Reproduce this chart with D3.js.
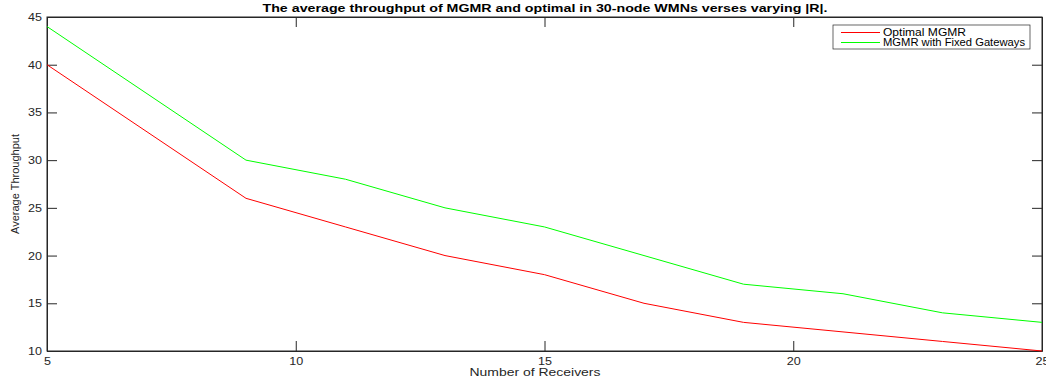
<html>
<head>
<script src="https://cdn.jsdelivr.net/npm/d3@7"></script>
<style>
body { margin: 0; background: #fff; }
text { font-family: "Liberation Sans", Arial, sans-serif; }
</style>
</head>
<body>
<div id="chart"></div>
<script>
var receivers = [5, 9, 11, 13, 15, 17, 19, 21, 23, 25];
var optimal = [40, 26, 23, 20, 18, 15, 13, 12, 11, 10];
var fixedGw = [44, 30, 28, 25, 23, 20, 17, 16, 14, 13];
var xTicks = [5, 10, 15, 20, 25];
var yTicks = [10, 15, 20, 25, 30, 35, 40, 45];
var seriesNames = ["Optimal MGMR", "MGMR with Fixed Gateways"];
var seriesColors = ["#ff0000", "#00ff00"];

var W = 1046, H = 382;
var m = {left: 47, right: 4, top: 17, bottom: 31};

var svg = d3.select("#chart").append("svg")
    .attr("width", W).attr("height", H);

var x = d3.scaleLinear().domain([5, 25]).range([m.left, W - m.right]);
var y = d3.scaleLinear().domain([10, 45]).range([H - m.bottom, m.top]);

// box
svg.append("rect")
   .attr("x", m.left).attr("y", m.top)
   .attr("width", W - m.right - m.left).attr("height", H - m.bottom - m.top)
   .attr("fill", "none").attr("stroke", "#262626").attr("stroke-width", 1);

var tl = 10;
var xa = svg.append("g").attr("transform", "translate(0," + (H - m.bottom) + ")")
    .call(d3.axisBottom(x).tickValues(xTicks).tickSizeInner(-tl).tickSizeOuter(0).tickPadding(5));
var xt = svg.append("g").attr("transform", "translate(0," + m.top + ")")
    .call(d3.axisTop(x).tickValues(xTicks).tickSizeInner(-tl).tickSizeOuter(0).tickFormat(""));
var ya = svg.append("g").attr("transform", "translate(" + m.left + ",0)")
    .call(d3.axisLeft(y).tickValues(yTicks).tickSizeInner(-tl).tickSizeOuter(0).tickPadding(5));
var yr = svg.append("g").attr("transform", "translate(" + (W - m.right) + ",0)")
    .call(d3.axisRight(y).tickValues(yTicks).tickSizeInner(-tl).tickSizeOuter(0).tickFormat(""));

[xa, xt, ya, yr].forEach(function(g) {
  g.select(".domain").attr("stroke", "#262626");
  g.selectAll(".tick line").attr("stroke", "#262626");
  g.selectAll(".tick text").attr("fill", "#262626").style("font-size", "11px")
   .style("font-family", "'Liberation Sans', Arial, sans-serif")
   .attr("lengthAdjust", "spacingAndGlyphs")
   .attr("textLength", function(d) { return String(d).length * 7; });
});
xa.selectAll(".tick text").attr("dy", "0.8em");

var line = d3.line().x(function(d, i) { return x(receivers[i]); }).y(function(d) { return y(d); });
[optimal, fixedGw].forEach(function(s, k) {
  svg.append("path").datum(s)
     .attr("d", line)
     .attr("fill", "none")
     .attr("stroke", seriesColors[k])
     .attr("stroke-width", 1);
});

// title and labels
svg.append("text").attr("x", 545).attr("y", 12)
   .attr("text-anchor", "middle").style("font-size", "11px").style("font-weight", "bold")
   .attr("fill", "#000")
   .attr("textLength", 565).attr("lengthAdjust", "spacingAndGlyphs")
   .text("The average throughput of MGMR and optimal in 30-node WMNs verses varying |R|.");
svg.append("text").attr("x", 535).attr("y", 376)
   .attr("text-anchor", "middle").style("font-size", "11px").attr("fill", "#262626")
   .attr("textLength", 131).attr("lengthAdjust", "spacingAndGlyphs")
   .text("Number of Receivers");
svg.append("text").attr("transform", "translate(19," + ((m.top + H - m.bottom) / 2) + ") rotate(-90)")
   .attr("text-anchor", "middle").style("font-size", "11px").attr("fill", "#262626")
   .text("Average Throughput");

// legend
var lg = svg.append("g").attr("transform", "translate(833,25)");
lg.append("rect").attr("width", 197).attr("height", 24)
  .attr("fill", "#fff").attr("stroke", "#262626").attr("stroke-width", 0.7);
var legendLen = [83, 142];
seriesNames.forEach(function(n, k) {
  var yy = 7.5 + k * 10;
  lg.append("line").attr("x1", 8).attr("x2", 47).attr("y1", yy).attr("y2", yy)
    .attr("stroke", seriesColors[k]).attr("stroke-width", 1);
  lg.append("text").attr("x", 50).attr("y", yy + 3.5).style("font-size", "10px")
    .attr("fill", "#000")
    .attr("textLength", legendLen[k]).attr("lengthAdjust", "spacingAndGlyphs")
    .text(n);
});
</script>
</body>
</html>
